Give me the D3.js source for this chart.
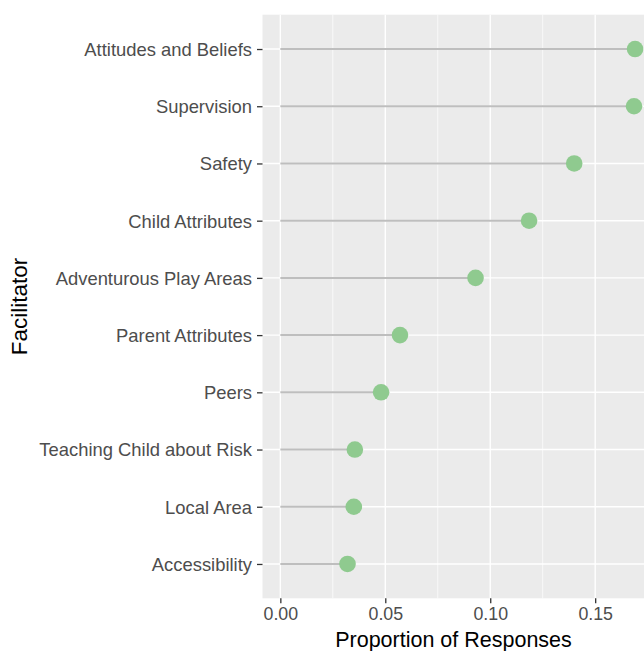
<!DOCTYPE html>
<html>
<head>
<meta charset="utf-8">
<script src="https://cdn.jsdelivr.net/npm/d3@7"></script>
<style>
  body { margin: 0; background: #fff; }
  text { font-family: "Liberation Sans", Arial, sans-serif; }
</style>
</head>
<body>
<div id="chart"></div>
<script>
// facilitators, top to bottom
var categories = [
  "Attitudes and Beliefs",
  "Supervision",
  "Safety",
  "Child Attributes",
  "Adventurous Play Areas",
  "Parent Attributes",
  "Peers",
  "Teaching Child about Risk",
  "Local Area",
  "Accessibility"
];
var proportions = [0.169, 0.1685, 0.140, 0.1185, 0.093, 0.057, 0.048, 0.0355, 0.035, 0.032];
var xTicks = [0, 0.05, 0.10, 0.15];
var xMinor = [0.025, 0.075, 0.125, 0.175];

var width = 644, height = 651;
var panel = {left: 262.5, top: 14.7, right: 655, bottom: 598.3};

var data = categories.map(function(c, i) { return {name: c, value: proportions[i]}; });

var x = d3.scaleLinear()
  .domain([-0.0085, 0.1785])
  .range([panel.left, panel.right]);

var y = d3.scalePoint()
  .domain(categories)
  .range([panel.top, panel.bottom])
  .padding(0.6);

var svg = d3.select("#chart").append("svg")
  .attr("width", width)
  .attr("height", height);

svg.append("rect")
  .attr("x", panel.left).attr("y", panel.top)
  .attr("width", panel.right - panel.left)
  .attr("height", panel.bottom - panel.top)
  .attr("fill", "#ebebeb");

// grid
svg.selectAll(".minor").data(xMinor).enter().append("line")
  .attr("x1", d => x(d)).attr("x2", d => x(d))
  .attr("y1", panel.top).attr("y2", panel.bottom)
  .attr("stroke", "#fff").attr("stroke-width", 0.7);

svg.selectAll(".vmajor").data(xTicks).enter().append("line")
  .attr("x1", d => x(d)).attr("x2", d => x(d))
  .attr("y1", panel.top).attr("y2", panel.bottom)
  .attr("stroke", "#fff").attr("stroke-width", 1.4);

svg.selectAll(".hmajor").data(categories).enter().append("line")
  .attr("x1", panel.left).attr("x2", panel.right)
  .attr("y1", d => y(d)).attr("y2", d => y(d))
  .attr("stroke", "#fff").attr("stroke-width", 1.4);

// lollipops
svg.selectAll(".stick").data(data).enter().append("line")
  .attr("x1", x(0)).attr("x2", d => x(d.value))
  .attr("y1", d => y(d.name)).attr("y2", d => y(d.name))
  .attr("stroke", "#bebebe").attr("stroke-width", 2);

svg.selectAll(".dot").data(data).enter().append("circle")
  .attr("cx", d => x(d.value)).attr("cy", d => y(d.name))
  .attr("r", 8.3)
  .attr("fill", "#8fca8f");

// axes
var yAxis = svg.append("g")
  .attr("transform", "translate(" + panel.left + ",0)")
  .call(d3.axisLeft(y).tickSize(5.5).tickPadding(5));
yAxis.select(".domain").remove();
yAxis.selectAll("line").attr("stroke", "#333").attr("stroke-width", 1.3);
yAxis.selectAll("text").attr("fill", "#4d4d4d").style("font-size", "18.4px")
  .attr("dy", "0.35em");

var xAxis = svg.append("g")
  .attr("transform", "translate(0," + panel.bottom + ")")
  .call(d3.axisBottom(x).tickValues(xTicks).tickFormat(d3.format(".2f")).tickSize(5).tickPadding(4.5));
xAxis.select(".domain").remove();
xAxis.selectAll("line").attr("stroke", "#333").attr("stroke-width", 1.3);
xAxis.selectAll("text").attr("fill", "#4d4d4d").style("font-size", "17.8px");

svg.append("text")
  .attr("x", 453.5).attr("y", 646.5)
  .attr("text-anchor", "middle")
  .style("font-size", "21.5px")
  .attr("fill", "#000")
  .text("Proportion of Responses");

svg.append("text")
  .attr("transform", "translate(27,306.5) rotate(-90)")
  .attr("text-anchor", "middle")
  .style("font-size", "22.5px")
  .attr("fill", "#000")
  .text("Facilitator");
</script>
</body>
</html>
